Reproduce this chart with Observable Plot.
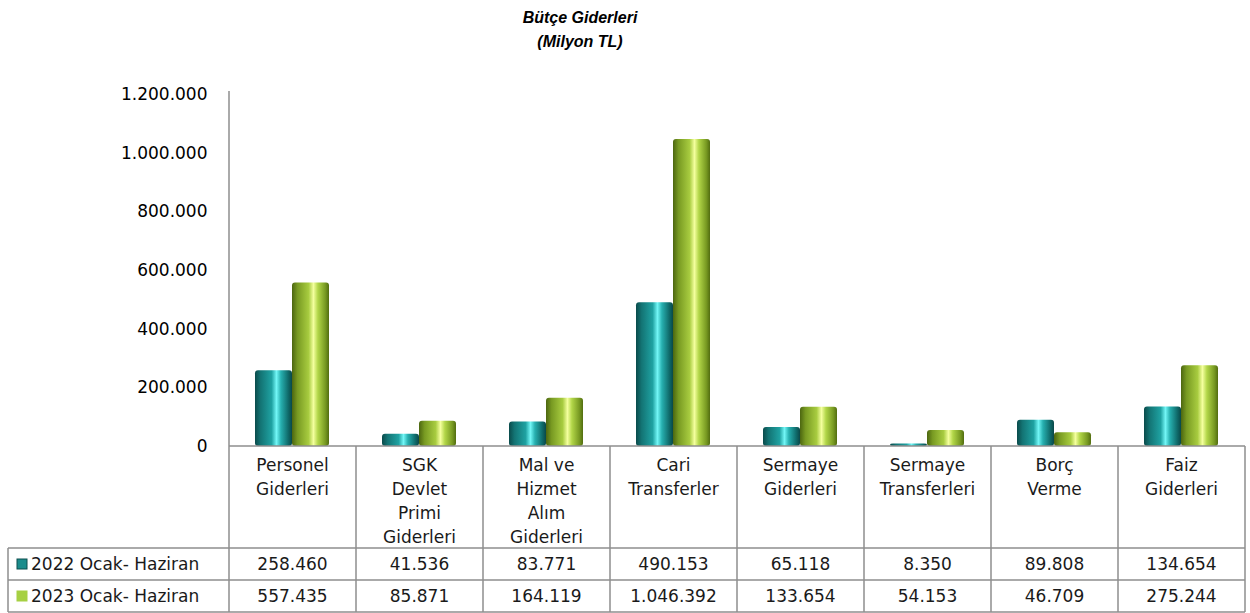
<!DOCTYPE html>
<html><head><meta charset="utf-8">
<script src="https://cdn.jsdelivr.net/npm/d3@7"></script>
<script src="https://cdn.jsdelivr.net/npm/@observablehq/plot@0.6"></script>
<style>
body{margin:0;background:#fff;width:1250px;height:613px;overflow:hidden;position:relative;font-family:"DejaVu Sans",sans-serif}
#title{position:absolute;left:480px;width:200px;top:6px;text-align:center;font:bold italic 16px "Liberation Sans",Arial,sans-serif;line-height:24px;color:#000}
#chart{position:absolute;top:60px;left:0}
</style></head><body>
<div id="title">Bütçe Giderleri<br>(Milyon TL)</div>
<div id="chart"></div>
<script>
const categories = ["Personel Giderleri","SGK Devlet Primi Giderleri","Mal ve Hizmet Alım Giderleri","Cari Transferler","Sermaye Giderleri","Sermaye Transferleri","Borç Verme","Faiz Giderleri"];
const categoryLines = [["Personel","Giderleri"],["SGK","Devlet","Primi","Giderleri"],["Mal ve","Hizmet","Alım","Giderleri"],["Cari","Transferler"],["Sermaye","Giderleri"],["Sermaye","Transferleri"],["Borç","Verme"],["Faiz","Giderleri"]];
const seriesNames = ["2022 Ocak- Haziran","2023 Ocak- Haziran"];
const values2022 = [258460,41536,83771,490153,65118,8350,89808,134654];
const values2023 = [557435,85871,164119,1046392,133654,54153,46709,275244];
const yTicks = [0,200000,400000,600000,800000,1000000,1200000];

const fmt = d3.formatLocale({decimal:",",thousands:".",grouping:[3],currency:["",""]}).format(",");
const d22 = categories.map((c,i)=>({cat:c, v:values2022[i]}));
const d23 = categories.map((c,i)=>({cat:c, v:values2023[i]}));

const plot = Plot.plot({
  width:1250, height:553,
  marginLeft:228, marginRight:5, marginTop:34, marginBottom:167,
  style:{fontFamily:"DejaVu Sans, sans-serif", fontSize:"17px", color:"#000", background:"#fff"},
  x:{domain:categories, padding:0, axis:null},
  y:{domain:[0,1200000]},
  marks:[
    Plot.axisY({ticks:yTicks, tickFormat:fmt, tickSize:0, tickPadding:21, label:null, fontSize:17}),
    Plot.barY(d22, {x:"cat", y:"v", fill:"url(#gTeal)", insetLeft:26, insetRight:64, ry:3}),
    Plot.barY(d23, {x:"cat", y:"v", fill:"url(#gGreen)", insetLeft:63, insetRight:27, ry:3})
  ]
});
document.getElementById("chart").appendChild(plot);

const svg = d3.select(plot);
svg.insert("defs", ":first-child").html(`
<linearGradient id="gTeal" x1="0" x2="1" y1="0" y2="0">
 <stop offset="0" stop-color="#0a4b4b"/><stop offset="0.15" stop-color="#137474"/>
 <stop offset="0.45" stop-color="#1fa2a2"/><stop offset="0.58" stop-color="#72f6f6"/>
 <stop offset="0.70" stop-color="#27b0b0"/><stop offset="0.9" stop-color="#0f6a6a"/>
 <stop offset="1" stop-color="#0a4848"/></linearGradient>
<linearGradient id="gGreen" x1="0" x2="1" y1="0" y2="0">
 <stop offset="0" stop-color="#4c6610"/><stop offset="0.15" stop-color="#789a22"/>
 <stop offset="0.45" stop-color="#a8cc40"/><stop offset="0.58" stop-color="#f4ff9e"/>
 <stop offset="0.70" stop-color="#b2d648"/><stop offset="0.9" stop-color="#789a22"/>
 <stop offset="1" stop-color="#526d10"/></linearGradient>`);

const xs = plot.scale("x"), ys = plot.scale("y");
const bw = xs.bandwidth;
const left = xs.apply(categories[0]);
const right = xs.apply(categories[categories.length-1]) + bw;
const y0 = ys.apply(0);
const yTop = ys.apply(1200000) - 3;
const yHead = y0 + 102, yR1 = yHead + 32, yR2 = yR1 + 32;
const tableLeft = 8;
const g = svg.append("g").attr("stroke","#8e8e8e").attr("stroke-width",1.5).attr("fill","none");
const line = (x1,y1,x2,y2)=>g.append("line").attr("x1",x1).attr("y1",y1).attr("x2",x2).attr("y2",y2);
line(left, yTop, left, yR2);
line(left, y0, right, y0);
line(tableLeft, yHead, right, yHead);
line(tableLeft, yR1, right, yR1);
line(tableLeft, yR2, right, yR2);
line(tableLeft, yHead, tableLeft, yR2);
categories.forEach(c=>{ const xe = xs.apply(c)+bw; line(xe, y0, xe, yR2); });

const t = svg.append("g").attr("font-family","DejaVu Sans, sans-serif").attr("font-size",17).attr("fill","#1a1a1a").attr("text-anchor","middle");
categories.forEach((c,i)=>{
  const cx = xs.apply(c)+bw/2;
  categoryLines[i].forEach((ln,j)=>{
    t.append("text").attr("x",cx).attr("y",y0+19+j*24+6).text(ln);
  });
  t.append("text").attr("x",cx).attr("y",yHead+16+6).text(fmt(values2022[i]));
  t.append("text").attr("x",cx).attr("y",yR1+16+6).text(fmt(values2023[i]));
});
const sw = [["#1b8c8c","#0d4f4f"],["#a6d043","#a6d043"]];
[yHead, yR1].forEach((yy,k)=>{
  svg.append("rect").attr("x",17).attr("y",yy+11).attr("width",10).attr("height",10).attr("fill",sw[k][0]).attr("stroke",sw[k][1]).attr("stroke-width",1);
  t.append("text").attr("x",31).attr("y",yy+16+6).attr("text-anchor","start").text(seriesNames[k]);
});
</script>
</body></html>
